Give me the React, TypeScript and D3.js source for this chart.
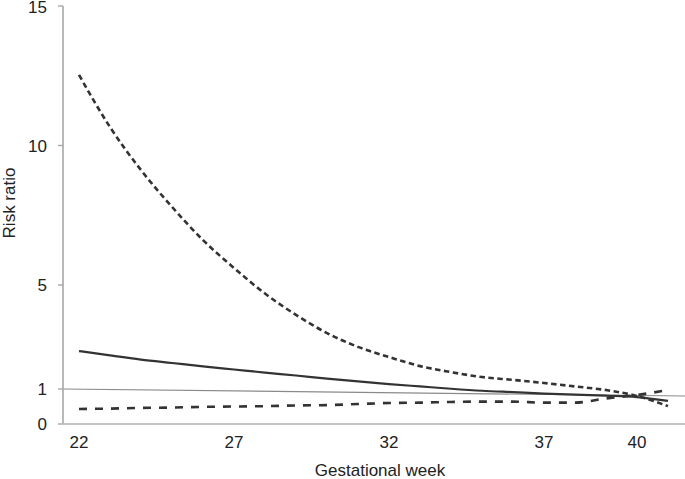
import React from "react";
import * as d3 from "d3";

const weeks = [22, 23, 24, 25, 26, 27, 28, 29, 30, 31, 32, 33, 34, 35, 36, 37, 38, 39, 40, 41];
const upperCI = [12.53, 10.66, 9.12, 7.8, 6.61, 5.61, 4.67, 3.85, 3.15, 2.62, 2.23, 1.88, 1.65, 1.46, 1.35, 1.23, 1.1, 0.97, 0.8, 0.51];
const riskRatio = [2.46, 2.29, 2.13, 2.0, 1.87, 1.75, 1.63, 1.52, 1.4, 1.29, 1.19, 1.1, 1.01, 0.95, 0.91, 0.87, 0.84, 0.81, 0.77, 0.66];
const lowerCI = [0.43, 0.44, 0.46, 0.47, 0.49, 0.5, 0.51, 0.53, 0.54, 0.57, 0.6, 0.61, 0.63, 0.64, 0.64, 0.61, 0.61, 0.73, 0.83, 0.97];
const xTicks = [22, 27, 32, 37, 40];
const yTicks = [0, 1, 5, 10, 15];
const refLine = [1, 0.8];

const FONT = "'Liberation Sans', Arial, Helvetica, sans-serif";

export default function App() {
  const W = 685, H = 479;
  const left = 63, right = 685, bottom = 424, top = 6;
  const x = d3.scaleLinear().domain([22, 41]).range([79, 668]);
  const y = d3.scaleLinear().domain([0, 1, 5, 15]).range([bottom, 389, 285, top]);

  const line = d3.line<number>().x((_, i) => x(weeks[i])).y((v) => y(v)).curve(d3.curveMonotoneX);

  return (
    <svg width={W} height={H} style={{ position: "absolute", left: 0, top: 0, background: "#fff" }}>
      {/* reference line */}
      <line x1={left} x2={right} y1={y(refLine[0])} y2={y(refLine[1])} stroke="#8a8a8a" strokeWidth={1.2} />
      {/* axes */}
      <line x1={left} x2={left} y1={top} y2={bottom} stroke="#a8a8a8" strokeWidth={1.6} />
      <line x1={left} x2={right} y1={bottom} y2={bottom} stroke="#c4c4c4" strokeWidth={2} />
      {yTicks.map((t) => (
        <g key={t}>
          <line x1={left - 5} x2={left} y1={y(t)} y2={y(t)} stroke="#a8a8a8" strokeWidth={1.4} />
          <text x={47} y={Math.max(y(t), 7)} dy="0.36em" textAnchor="end" fontFamily={FONT} fontSize={17} fill="#222">
            {t}
          </text>
        </g>
      ))}
      {xTicks.map((t) => (
        <text key={t} x={x(t)} y={448} textAnchor="middle" fontFamily={FONT} fontSize={17} fill="#222">
          {t}
        </text>
      ))}
      <text x={380} y={476} textAnchor="middle" fontFamily={FONT} fontSize={17} fill="#222">
        Gestational week
      </text>
      <text transform={`translate(15,203) rotate(-90)`} textAnchor="middle" fontFamily={FONT} fontSize={17} fill="#222">
        Risk ratio
      </text>
      {/* series */}
      <path d={line(upperCI) || ""} fill="none" stroke="#333" strokeWidth={2.6} strokeDasharray="5.5,3.5" />
      <path d={line(lowerCI) || ""} fill="none" stroke="#333" strokeWidth={2.6} strokeDasharray="8,8" />
      <path d={line(riskRatio) || ""} fill="none" stroke="#333" strokeWidth={2.2} />
    </svg>
  );
}
